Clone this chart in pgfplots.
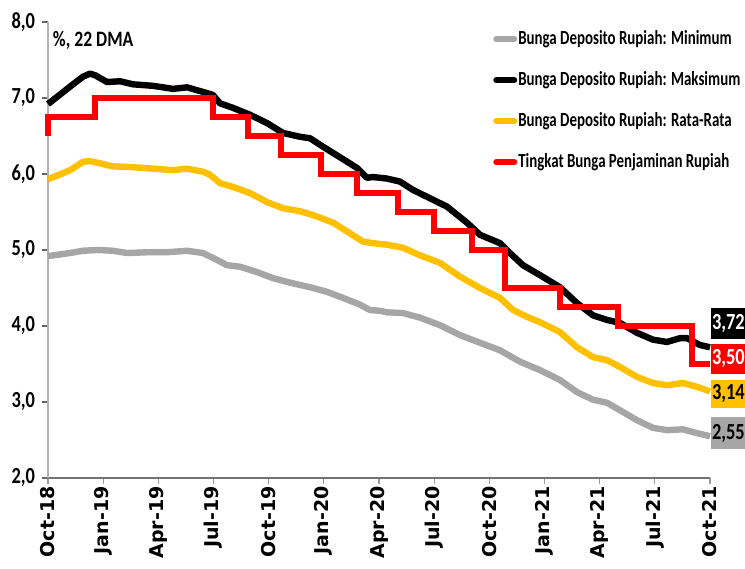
\documentclass[border=0pt]{standalone}
\usepackage{fontspec}
\setmainfont{Carlito}[FakeStretch=0.8]
\newfontfamily\legfont{Carlito}[FakeStretch=0.745]
\newfontfamily\xfont{DejaVu Sans}
\usepackage{pgfplots}
\pgfplotsset{compat=1.18}
\definecolor{cgray}{HTML}{A6A6A6}
\definecolor{cyel}{HTML}{FFC000}
\definecolor{cred}{HTML}{FF0000}
\begin{document}
\begin{tikzpicture}
\begin{axis}[
  name=ax,
  scale only axis, width=331pt, height=228pt,
  xmin=0, xmax=36, ymin=2, ymax=8,
  clip=false,
  axis x line*=bottom, axis y line*=left,
  x axis line style={draw=black!55, line width=0.6pt},
  y axis line style={draw=black!30, line width=0.8pt},
  xtick={0,3,...,36},
  xticklabels={Oct-18,Jan-19,Apr-19,Jul-19,Oct-19,Jan-20,Apr-20,Jul-20,Oct-20,Jan-21,Apr-21,Jul-21,Oct-21},
  x tick label style={rotate=90, anchor=east, font=\xfont\bfseries\fontsize{9.5}{10}\selectfont, inner sep=1pt},
  xtick style={draw=black!40, line width=0.6pt},
  ytick={2,3,...,8},
  ytick style={draw=black!60, line width=0.6pt},
  yticklabel style={font=\bfseries\fontsize{11.5}{12}\selectfont, /pgf/number format/.cd, fixed, fixed zerofill, precision=1, use comma, assume math mode=true},
  tick align=outside,
  major tick length=3pt,
  legend style={at={(rel axis cs:0.672,0.984)}, anchor=north west, draw=none, fill=none,
    font=\legfont\bfseries\fontsize{10}{11}\selectfont, row sep=11pt, inner sep=0pt,
    nodes={inner sep=0.5pt}},
  legend cell align=left,
  legend image code/.code={\draw[#1, line width=3pt, line cap=round] (0pt,0pt) -- (9pt,0pt);},
]
\addplot[cgray, line width=3.2pt, line join=round] coordinates {
(0,4.92)(1.20,4.96)(1.90,4.99)(2.66,5.00)(3.53,4.99)(4.30,4.96)(5.38,4.97)(6.47,4.97)(7.56,4.99)(8.43,4.96)(9.19,4.87)(9.73,4.80)(10.44,4.78)(11.36,4.71)(12.23,4.63)(13.16,4.57)(14.25,4.51)(15.17,4.45)(16.04,4.37)(16.97,4.28)(17.51,4.21)(18.05,4.20)(18.43,4.18)(19.30,4.17)(20.23,4.11)(21.32,4.01)(22.40,3.88)(23.49,3.78)(24.58,3.68)(25.67,3.53)(26.75,3.42)(27.84,3.29)(28.77,3.13)(29.64,3.03)(30.40,2.99)(31.11,2.89)(32.03,2.76)(32.90,2.66)(33.66,2.63)(34.53,2.64)(35.29,2.59)(36.0,2.55)};
\addlegendentry{Bunga Deposito Rupiah: Minimum}
\addplot[black, line width=3.2pt, line join=round] coordinates {
(0,6.92)(1.20,7.15)(1.90,7.28)(2.28,7.32)(2.56,7.30)(3.21,7.21)(3.92,7.22)(4.62,7.18)(5.71,7.16)(6.80,7.12)(7.56,7.14)(8.43,7.08)(8.97,7.04)(9.35,6.93)(10.06,6.87)(10.98,6.78)(11.91,6.67)(12.78,6.54)(13.70,6.49)(14.25,6.47)(14.95,6.36)(15.88,6.22)(16.80,6.08)(17.35,5.95)(17.67,5.96)(18.05,5.95)(18.43,5.94)(19.14,5.90)(19.85,5.79)(20.61,5.70)(21.70,5.57)(22.78,5.36)(23.49,5.20)(24.58,5.09)(25.12,4.96)(25.83,4.80)(26.75,4.67)(27.84,4.51)(28.77,4.30)(29.64,4.14)(30.40,4.08)(31.11,4.04)(32.03,3.91)(32.90,3.82)(33.66,3.79)(34.37,3.84)(34.75,3.84)(35.45,3.75)(36.0,3.72)};
\addlegendentry{Bunga Deposito Rupiah: Maksimum}
\addplot[cyel, line width=3.2pt, line join=round] coordinates {
(0,5.93)(1.20,6.05)(1.90,6.16)(2.28,6.17)(2.83,6.14)(3.53,6.10)(4.62,6.09)(5.71,6.07)(6.80,6.05)(7.56,6.07)(8.43,6.03)(8.81,5.99)(9.35,5.88)(10.06,5.83)(10.98,5.75)(11.91,5.63)(12.78,5.55)(13.70,5.51)(14.41,5.46)(15.50,5.36)(16.42,5.22)(17.13,5.11)(17.67,5.09)(18.43,5.07)(19.30,5.03)(20.23,4.93)(21.32,4.83)(22.40,4.65)(23.49,4.50)(24.58,4.37)(25.29,4.21)(26.05,4.12)(26.75,4.05)(27.84,3.92)(28.77,3.72)(29.64,3.59)(30.40,3.55)(31.11,3.46)(32.03,3.33)(32.90,3.25)(33.66,3.22)(34.53,3.25)(35.29,3.20)(36.0,3.14)};
\addlegendentry{Bunga Deposito Rupiah: Rata-Rata}
\addplot[cred, line width=3pt, line join=miter] coordinates {
(0,6.5)(0,6.75)(2.56,6.75)(2.56,7.0)(8.97,7.0)(8.97,6.75)(10.88,6.75)(10.88,6.5)(12.67,6.5)(12.67,6.25)(14.85,6.25)(14.85,6.0)(16.80,6.0)(16.80,5.75)(19.03,5.75)(19.03,5.5)(20.99,5.5)(20.99,5.25)(23.06,5.25)(23.06,5.0)(24.85,5.0)(24.85,4.5)(27.84,4.5)(27.84,4.25)(31.0,4.25)(31.0,4.0)(35.02,4.0)(35.02,3.5)(36,3.5)};
\addlegendentry{Tingkat Bunga Penjaminan Rupiah}
\node[anchor=west, font=\bfseries\fontsize{11}{12}\selectfont, inner sep=0pt] at (axis cs:0.25,7.76) {\%, 22 DMA};
\node[anchor=west, fill=black, text=white, minimum width=16pt, minimum height=15.5pt, inner sep=0.3pt, font=\bfseries\fontsize{11.5}{12}\selectfont] at ([xshift=0.5pt]axis cs:36,4.03) {3,72};
\node[anchor=west, fill=cred, text=white, minimum width=16pt, minimum height=15pt, inner sep=0.3pt, font=\bfseries\fontsize{11.5}{12}\selectfont] at ([xshift=0.5pt]axis cs:36,3.57) {3,50};
\node[anchor=west, fill=cyel, text=black, minimum width=16pt, minimum height=14pt, inner sep=0.3pt, font=\bfseries\fontsize{11.5}{12}\selectfont] at ([xshift=0.5pt]axis cs:36,3.11) {3,14};
\node[anchor=west, fill=cgray, text=black, minimum width=16pt, minimum height=16pt, inner sep=0.3pt, font=\bfseries\fontsize{11.5}{12}\selectfont] at ([xshift=0.5pt]axis cs:36,2.59) {2,55};
\coordinate (sw) at (rel axis cs:0,0);
\coordinate (ne) at (rel axis cs:1,1);
\end{axis}
\pgfresetboundingbox
\useasboundingbox ([shift={(-24pt,-45.5pt)}]sw) rectangle ([shift={(17.5pt,11pt)}]ne);
\end{tikzpicture}
\end{document}
